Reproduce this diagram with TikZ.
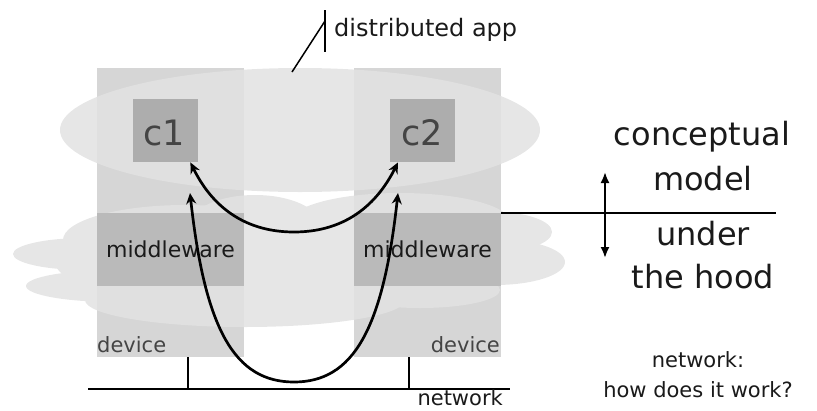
\documentclass[tikz,border=0pt]{standalone}
\usepackage{fontspec}
\setmainfont{DejaVu Sans}
\usetikzlibrary{arrows.meta,shapes.geometric}
\definecolor{devgray}{HTML}{D6D6D6}
\definecolor{cloudgray}{HTML}{E2E2E2}
\definecolor{mwgray}{HTML}{BABABA}
\definecolor{cgray}{HTML}{ADADAD}
\definecolor{txtgray}{HTML}{444444}
\definecolor{txtdark}{HTML}{1A1A1A}
\begin{document}
\begin{tikzpicture}[x=1pt,y=-1pt,
  devicebox/.style={fill=devgray, minimum width=147pt, minimum height=289pt, inner sep=0pt, anchor=north west},
  mwbox/.style={fill=mwgray, minimum width=147pt, minimum height=73pt, inner sep=0pt, anchor=north west},
  compbox/.style={fill=cgray, minimum width=65pt, minimum height=63pt, inner sep=0pt, anchor=north west},
  lbl/.style={inner sep=0pt, font=\fontsize{21}{21}\selectfont},
  big/.style={inner sep=0pt, font=\fontsize{32}{32}\selectfont},
  flow/.style={line width=2.7pt, {Stealth[length=11pt,width=10pt]}-{Stealth[length=11pt,width=10pt]}},
  thinline/.style={line width=2pt}]
\useasboundingbox (0,0) rectangle (817,410);
% devices
\node[devicebox] (dev1) at (97,68) {};
\node[devicebox] (dev2) at (354,68) {};
% distributed app ellipse
\node[ellipse, fill=cloudgray, fill opacity=0.86, minimum width=480pt, minimum height=124pt, inner sep=0pt] (app) at (300,130) {};
% cloud
\begin{scope}[transparency group, opacity=0.86]
\fill[cloudgray] (290,262) ellipse [x radius=235pt, y radius=48pt];
\fill[cloudgray] (85,254) ellipse [x radius=72pt, y radius=16pt];
\fill[cloudgray] (115,286) ellipse [x radius=89pt, y radius=16pt];
\fill[cloudgray] (185,240) ellipse [x radius=122pt, y radius=35pt];
\fill[cloudgray] (255,225) ellipse [x radius=65pt, y radius=30pt];
\fill[cloudgray] (400,222) ellipse [x radius=110pt, y radius=29pt];
\fill[cloudgray] (495,232) ellipse [x radius=57pt, y radius=20pt];
\fill[cloudgray] (495,262) ellipse [x radius=70pt, y radius=23pt];
\fill[cloudgray] (245,300) ellipse [x radius=160pt, y radius=27pt];
\fill[cloudgray] (420,290) ellipse [x radius=80pt, y radius=18pt];
\end{scope}
% middleware
\node[mwbox] (mw1) at (97,213) {};
\node[mwbox] (mw2) at (354,213) {};
\node[inner sep=0pt, font=\fontsize{22}{22}\selectfont, anchor=base, text=txtdark] (mwt1) at (170.5,257) {middleware};
\node[inner sep=0pt, font=\fontsize{22}{22}\selectfont, anchor=base, text=txtdark] (mwt2) at (427.5,257) {middleware};
% components
\node[compbox] (c1) at (133,99) {};
\node[compbox] (c2) at (390,99) {};
\node[inner sep=0pt, font=\fontsize{35}{35}\selectfont, text=txtgray, anchor=base] (c1t) at (164.5,145) {c1};
\node[inner sep=0pt, font=\fontsize{35}{35}\selectfont, text=txtgray, anchor=base] (c2t) at (422.5,145) {c2};
% device labels
\node[lbl, anchor=base west, text=txtgray] (dl1) at (97,352) {device};
\node[lbl, anchor=base east, text=txtgray] (dl2) at (500,352) {device};
% flows
\coordinate (p1) at (190,193);
\coordinate (p2) at (398,193);
\draw[flow] ([xshift=-8pt]c1.south east) .. controls (205,192) and (232,232) .. (294,232) .. controls (356,232) and (383,192) .. ([xshift=8pt]c2.south west);
\draw[flow] (p1) .. controls (205,330) and (235,382) .. (294,382) .. controls (353,382) and (383,330) .. (p2);
% network
\coordinate (n1) at (88,389);
\coordinate (n2) at (510,389);
\coordinate (t1) at (188,357);
\coordinate (t2) at (409,357);
\draw[thinline] (n1) -- (n2);
\draw[thinline] (t1) -- (t1 |- n1);
\draw[thinline] (t2) -- (t2 |- n1);
\node[lbl, anchor=base east, text=txtdark] (netl) at (503,405) {network};
% distributed app label
\coordinate (la) at (292,72);
\coordinate (lb) at (325,21);
\coordinate (va) at (325,10);
\coordinate (vb) at (325,52);
\draw[line width=1.5pt] (la) -- (lb);
\draw[line width=2.4pt] (va) -- (vb);
\node[inner sep=0pt, font=\fontsize{24}{24}\selectfont, anchor=base west, text=txtdark] (appl) at (334,36) {distributed app};
% divider
\draw[thinline] (dev2.east) -- ++(275,0) coordinate (dv);
\coordinate (ua) at (605,172);
\coordinate (ub) at (605,258);
\draw[thinline, {Latex[length=11pt,width=9pt]}-{Latex[length=11pt,width=9pt]}] (ua) -- (ub);
\node[big, anchor=base, text=txtdark] (cm1) at (702,145) {conceptual};
\node[big, anchor=base, text=txtdark] (cm2) at (703,190) {model};
\node[big, anchor=base, text=txtdark] (uh1) at (703,245) {under};
\node[big, anchor=base, text=txtdark] (uh2) at (703,288) {the hood};
\node[lbl, anchor=base, text=txtdark] (nq1) at (698,367) {network:};
\node[lbl, anchor=base, text=txtdark] (nq2) at (698,397) {how does it work?};
\end{tikzpicture}
\end{document}
